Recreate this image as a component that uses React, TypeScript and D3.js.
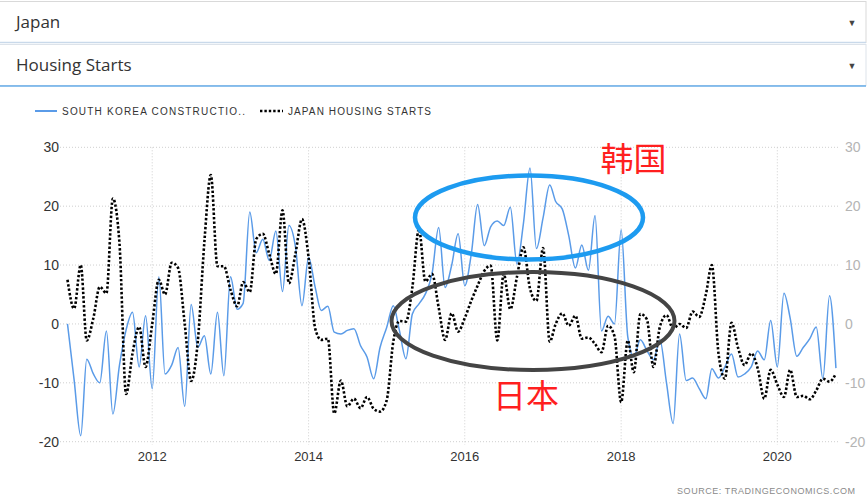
import React from 'react';
import * as d3 from 'd3';

const W = 868;
const H = 496;

// Monthly series, first value = Dec 2010, last = Oct 2020
const firstMonth = { year: 2010, month: 11 };

const korea: number[] = [
  0, -9.5, -19, -6, -8.5, -10, -1.2, -15.3, -7, -1, 2, -7.3, 1.4,
  -11, 8, -8.5, -7, -4, -14, 3.3, -4, -2, -8.5, 2, -8.8,
  8, 2.5, 3.5, 19, 12.1, 14.4, 10.8, 15.8, 5.5, 16.7, 13, 3.1,
  11.3, 6.2, 2.3, 3, -1.4, -1.7, -1.1, -0.8, -3.7, -5.6, -9.3, -4,
  -0.6, 3.1, -1, -5.9, 1.7, 3.4, 5.1, 8.5, 16.4, 6.2, 10, 15.3,
  6.5, 12, 20.3, 13.3, 16.5, 17.5, 16.7, 19.8, 10.2, 17, 26.5, 12.8,
  18, 23.6, 20.8, 19.5, 15, 9.5, 13.4, 9.1, 18.4, -1.2, 1.3, 0,
  16, -2.2, -5.6, -2.7, -4.5, -6.1, -2.7, -10, -16.9, -1.7, -9.6, -9.2,
  -11, -12.7, -7.6, -9.2, -7.3, -5.1, -9, -8.5, -7.3, -4.6, -6.1, 0.6,
  -7.3, 5.2, 1, -5.5, -4, -2.5, -0.5, -9.3, 4.8, -7.5,
];

const japan: number[] = [
  7.5, 2.6, 10, -2.8, 1, 6.3, 5.2, 21.3, 13.7, -11.9, -5, -0.5, -7.3,
  0, 7.5, 5, 10.4, 9.5, 0, -9.7, -3, 14, 25.3, 9.8, 9.8,
  5.8, 3, 7.1, 5.4, 14.4, 15.3, 11.9, 8.5, 19.3, 6.9, 12, 17.8,
  11.3, -0.8, -2.7, -2.5, -15.2, -9.6, -14, -12.7, -14.3, -12.4, -14.4, -14.9,
  -13, -3, 0.5, 0.4, 6.2, 16.1, 7.2, 8.5, 2.8, -2.7, 1.8, -1.3,
  1, 4, 6.5, 9, 9.9, -2.8, 8.5, 2.5, 8, 13, 6, 3.9,
  12.9, -3, 0, 1.8, -0.3, 1.4, -2.5, -2.3, -3.4, -4.8, -0.3, -2.1,
  -13.3, -2.8, -8.2, 1.7, 0.8, -7.3, -0.5, 1.5, -0.8, 0, -0.7, 2.1,
  1.2, 5, 10, -5, -9.3, 0.2, -4, -7, -5, -7.5, -12.7, -7.8,
  -10.3, -12.4, -7.8, -12.4, -12.2, -12.8, -11.3, -9.3, -9.8, -8.4,
];

const yTicks = [-20, -10, 0, 10, 20, 30];
const xTickYears = [2012, 2014, 2016, 2018, 2020];
const legendLabels = ['SOUTH KOREA CONSTRUCTIO..', 'JAPAN HOUSING STARTS'];
const dropdownLabels = ['Japan', 'Housing Starts'];
const sourceLabel = 'SOURCE:  TRADINGECONOMICS.COM';
const annotationKorea = '韩国';
const annotationJapan = '日本';

const PLOT = { left: 60, right: 840, top: 147.3, bottom: 441.7 };

export default function App() {
  const x = d3
    .scaleTime()
    .domain([new Date(2010, 9, 27), new Date(2020, 9, 20)])
    .range([PLOT.left, PLOT.right]);
  const y = d3.scaleLinear().domain([-20, 30]).range([PLOT.bottom, PLOT.top]);

  const dateAt = (i: number) => new Date(firstMonth.year, firstMonth.month + i, 1);

  const line = d3
    .line<number>()
    .x((_, i) => x(dateAt(i)))
    .y((d) => y(d))
    .curve(d3.curveMonotoneX);

  const sans = "Arial, 'Liberation Sans', sans-serif";

  return (
    <svg
      width={W}
      height={H}
      viewBox={`0 0 ${W} ${H}`}
      style={{ position: 'absolute', left: 0, top: 0, background: '#fff' }}
      fontFamily={sans}
    >
      <rect x={0} y={0} width={W} height={H} fill="#fff" />

      {/* dropdowns */}
      <rect x={-2} y={1.5} width={868} height={41} fill="#fff" stroke="#d9d9d9" />
      <line x1={0} x2={866} y1={42.5} y2={42.5} stroke="#c9d9ea" strokeWidth={1.5} />
      <rect x={-2} y={44.5} width={868} height={41} fill="#fff" stroke="#dde3ea" />
      <line x1={0} x2={866} y1={86} y2={86} stroke="#66ade8" strokeWidth={1.6} />
      {dropdownLabels.map((t, i) => (
        <g key={t}>
          <text x={16} y={28 + i * 43} fontFamily="'Open Sans', sans-serif" fontSize={17} fill="#333">
            {t}
          </text>
          <text x={852} y={26 + i * 43} fontSize={9} fill="#444" textAnchor="middle">
            ▼
          </text>
        </g>
      ))}

      {/* legend */}
      <line x1={35} x2={57} y1={111} y2={111} stroke="#5a9be8" strokeWidth={2} />
      <text x={62} y={115} fontSize={10} fill="#333" textLength={183} lengthAdjust="spacing">
        {legendLabels[0]}
      </text>
      <line x1={260} x2={283} y1={111} y2={111} stroke="#000" strokeWidth={2.4} strokeDasharray="2.4,2" />
      <text x={288} y={115} fontSize={10} fill="#333" textLength={143} lengthAdjust="spacing">
        {legendLabels[1]}
      </text>

      {/* grid */}
      {yTicks.map((t) => (
        <line
          key={'h' + t}
          x1={PLOT.left}
          x2={PLOT.right}
          y1={y(t)}
          y2={y(t)}
          stroke="#cfcfcf"
          strokeDasharray="1,2"
        />
      ))}
      {xTickYears.map((yr) => (
        <line
          key={'v' + yr}
          x1={x(new Date(yr, 0, 1))}
          x2={x(new Date(yr, 0, 1))}
          y1={PLOT.top}
          y2={PLOT.bottom + 3}
          stroke="#cfcfcf"
          strokeDasharray="1,2"
        />
      ))}

      {/* axes labels */}
      {yTicks.map((t) => (
        <text key={'l' + t} x={59} y={y(t)} dy="0.35em" fontSize={14} fill="#333" textAnchor="end">
          {t}
        </text>
      ))}
      {yTicks.map((t) => (
        <text key={'r' + t} x={845} y={y(t)} dy="0.35em" fontSize={14} fill="#b4b4b4" textAnchor="start">
          {t}
        </text>
      ))}
      {xTickYears.map((yr) => (
        <text key={'x' + yr} x={x(new Date(yr, 0, 1))} y={461} fontSize={13} fill="#333" textAnchor="middle">
          {yr}
        </text>
      ))}

      {/* series */}
      <path d={line(korea) || ''} fill="none" stroke="#5a9be8" strokeWidth={1.5} />
      <path
        d={line(japan) || ''}
        fill="none"
        stroke="#000"
        strokeWidth={2.6}
        strokeDasharray="2.4,2"
      />

      {/* annotations */}
      <ellipse cx={529} cy={217.5} rx={114} ry={42} fill="none" stroke="#1d9bf0" strokeWidth={4.5} />
      <ellipse cx={533} cy={321} rx={141.5} ry={49} fill="none" stroke="#444" strokeWidth={4} />
      <text
        x={633.5}
        y={171}
        fontFamily="'Noto Sans CJK SC', sans-serif"
        fontSize={33}
        fill="#ff1f1f"
        textAnchor="middle"
      >
        {annotationKorea}
      </text>
      <text
        x={526}
        y={408}
        fontFamily="'Noto Sans CJK SC', sans-serif"
        fontSize={33}
        fill="#ff1f1f"
        textAnchor="middle"
      >
        {annotationJapan}
      </text>

      {/* source */}
      <text x={677} y={494} fontSize={9} fill="#8a8a8a" textLength={178} lengthAdjust="spacing">
        {sourceLabel}
      </text>
    </svg>
  );
}
